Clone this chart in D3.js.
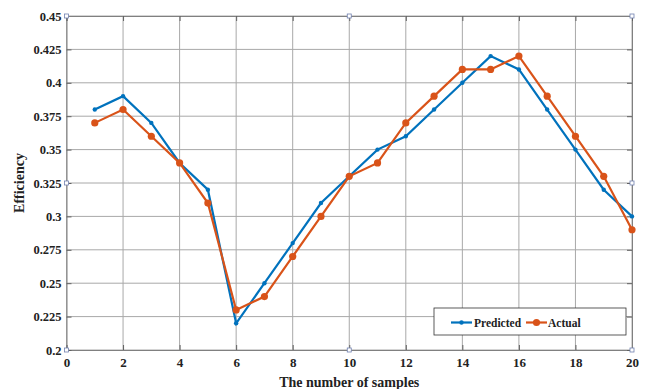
<!DOCTYPE html>
<html>
<head>
<meta charset="utf-8">
<script src="https://cdn.jsdelivr.net/npm/d3@7"></script>
<style>
  body { margin: 0; background: #fff; }
</style>
</head>
<body>
<script>
'use strict';

// sample index (x) and the two series
const samples = d3.range(1, 21);
const predicted = [0.38, 0.39, 0.37, 0.34, 0.32, 0.22, 0.25, 0.28, 0.31, 0.33,
                   0.35, 0.36, 0.38, 0.40, 0.42, 0.41, 0.38, 0.35, 0.32, 0.30];
const actual    = [0.37, 0.38, 0.36, 0.34, 0.31, 0.23, 0.24, 0.27, 0.30, 0.33,
                   0.34, 0.37, 0.39, 0.41, 0.41, 0.42, 0.39, 0.36, 0.33, 0.29];
const xTicks = [0, 2, 4, 6, 8, 10, 12, 14, 16, 18, 20];
const yTicks = [0.2, 0.225, 0.25, 0.275, 0.3, 0.325, 0.35, 0.375, 0.4, 0.425, 0.45];
const yTickLabels = ["0.2", "0.225", "0.25", "0.275", "0.3", "0.325", "0.35", "0.375", "0.4", "0.425", "0.45"];

const W = 648, H = 389;
const margin = {top: 16, right: 16, bottom: 39, left: 66.5};
const width = W - margin.left - margin.right;
const height = H - margin.top - margin.bottom;

const blue = "#0072BD", orange = "#D95319";
const serif = "'Liberation Serif', 'Times New Roman', 'DejaVu Serif', serif";

const svg = d3.select("body").append("svg")
  .attr("width", W).attr("height", H);

const g = svg.append("g")
  .attr("transform", "translate(" + margin.left + "," + margin.top + ")");

const x = d3.scaleLinear().domain([0, 20]).range([0, width]);
const y = d3.scaleLinear().domain([0.2, 0.45]).range([height, 0]);

// grid
g.append("g").selectAll("line").data(xTicks).enter().append("line")
  .attr("x1", d => x(d)).attr("x2", d => x(d))
  .attr("y1", 0).attr("y2", height)
  .style("stroke", "#a8a8a8").style("stroke-width", 1);
g.append("g").selectAll("line").data(yTicks).enter().append("line")
  .attr("x1", 0).attr("x2", width)
  .attr("y1", d => y(d)).attr("y2", d => y(d))
  .style("stroke", "#a8a8a8").style("stroke-width", 1);

// axes
const xAxis = g.append("g")
  .attr("transform", "translate(0," + height + ")")
  .call(d3.axisBottom(x).tickValues(xTicks).tickSize(-5).tickPadding(8).tickFormat(d3.format("d")));
const yAxis = g.append("g")
  .call(d3.axisLeft(y).tickValues(yTicks).tickSize(-5).tickPadding(5)
    .tickFormat((d, i) => yTickLabels[i]));
g.append("g").attr("transform", "translate(" + width + ",0)")
  .call(d3.axisRight(y).tickValues(yTicks).tickSize(-5).tickFormat(""));
g.append("g")
  .call(d3.axisTop(x).tickValues(xTicks).tickSize(-5).tickFormat(""));

g.selectAll(".domain").style("stroke", "#808080");
g.selectAll(".tick line").style("stroke", "#606060");
xAxis.selectAll("text").style("font-family", serif).style("font-weight", "bold")
  .style("font-size", "13px").style("fill", "#222");
yAxis.selectAll("text").style("font-family", serif).style("font-weight", "bold")
  .style("font-size", "12.5px").style("fill", "#222");

// little corner squares
const corners = [[0, 0.45], [10, 0.45], [20, 0.45], [0, 0.2], [10, 0.2], [20, 0.2], [0, 0.325], [20, 0.325]];
g.append("g").selectAll("rect").data(corners).enter().append("rect")
  .attr("x", d => x(d[0]) - 2).attr("y", d => y(d[1]) - 2)
  .attr("width", 4).attr("height", 4)
  .style("fill", "white").style("stroke", "#7080b0").style("stroke-width", 0.8);

// lines
const line = d3.line().x(d => x(d[0])).y(d => y(d[1]));
const predPts = samples.map((s, i) => [s, predicted[i]]);
const actPts = samples.map((s, i) => [s, actual[i]]);

g.append("path").datum(predPts).attr("d", line)
  .style("fill", "none").style("stroke", blue).style("stroke-width", 2.2);
g.append("g").selectAll("circle").data(predPts).enter().append("circle")
  .attr("cx", d => x(d[0])).attr("cy", d => y(d[1])).attr("r", 2.2)
  .style("fill", blue);

g.append("path").datum(actPts).attr("d", line)
  .style("fill", "none").style("stroke", orange).style("stroke-width", 2.2);
g.append("g").selectAll("circle").data(actPts).enter().append("circle")
  .attr("cx", d => x(d[0])).attr("cy", d => y(d[1])).attr("r", 3.6)
  .style("fill", orange);

// legend
const lg = svg.append("g");
lg.append("rect").attr("x", 434).attr("y", 308).attr("width", 192).attr("height", 27)
  .style("fill", "white").style("stroke", "#333").style("stroke-width", 0.8);
lg.append("line").attr("x1", 451).attr("x2", 472).attr("y1", 322.5).attr("y2", 322.5)
  .style("stroke", blue).style("stroke-width", 2.2);
lg.append("circle").attr("cx", 461.5).attr("cy", 322.5).attr("r", 2.2).style("fill", blue);
lg.append("text").attr("x", 474).attr("y", 327)
  .style("font-family", serif).style("font-weight", "bold")
  .style("font-size", "11.5px").style("fill", "#222")
  .text("Predicted");
lg.append("line").attr("x1", 526).attr("x2", 547).attr("y1", 322.5).attr("y2", 322.5)
  .style("stroke", orange).style("stroke-width", 2.2);
lg.append("circle").attr("cx", 536.5).attr("cy", 322.5).attr("r", 3.6).style("fill", orange);
lg.append("text").attr("x", 548).attr("y", 327)
  .style("font-family", serif).style("font-weight", "bold")
  .style("font-size", "11.5px").style("fill", "#222")
  .text("Actual");

// axis labels
svg.append("text")
  .attr("x", margin.left + x(10)).attr("y", 387)
  .style("font-family", serif).style("font-weight", "bold")
  .style("text-anchor", "middle").style("font-size", "14px").style("fill", "#222")
  .text("The number of samples");
svg.append("text")
  .attr("transform", "translate(24," + (margin.top + y(0.325)) + ") rotate(-90)")
  .style("font-family", serif).style("font-weight", "bold")
  .style("text-anchor", "middle").style("font-size", "14px").style("fill", "#222")
  .text("Efficiency");
</script>
</body>
</html>
